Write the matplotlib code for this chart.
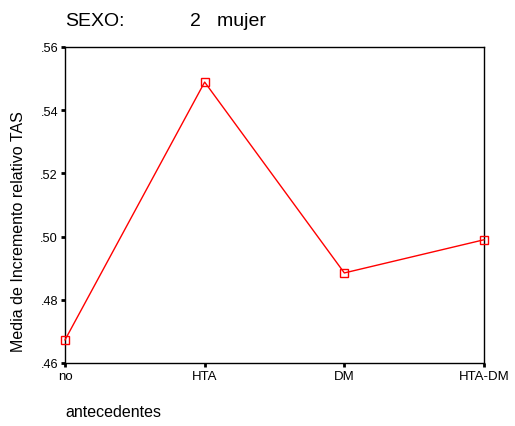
import matplotlib
matplotlib.use("Agg")
import matplotlib.pyplot as plt

plt.rcParams['font.family'] = ['Liberation Sans', 'DejaVu Sans']

categories = ["no", "HTA", "DM", "HTA-DM"]
values = [0.4673, 0.5489, 0.4885, 0.4990]
yticks = [0.46, 0.48, 0.50, 0.52, 0.54, 0.56]
ytick_labels = [".46", ".48", ".50", ".52", ".54", ".56"]

W, H = 515, 427
fig = plt.figure(figsize=(W/100, H/100), dpi=100)
ax = fig.add_axes([65/W, 1-364/H, (484-65)/W, (364-48)/H])

x = list(range(len(categories)))
ax.plot(x, values, color='red', lw=1, marker='s', markersize=6,
        markerfacecolor='none', markeredgecolor='red', markeredgewidth=1, clip_on=False, zorder=3)
ax.set_xlim(0, 3)
ax.set_ylim(0.46, 0.56)
ax.set_xticks(x)
ax.set_xticklabels(categories, fontsize=9.5)
ax.set_yticks(yticks)
ax.set_yticklabels(ytick_labels, fontsize=9.2)
ax.tick_params(direction='out', length=3, width=2, pad=2)
for s in ax.spines.values():
    s.set_linewidth(1)

fig.text(19/W, 1-232/H, "Media de Incremento relativo TAS", fontsize=11.5,
         rotation=90, va='center', ha='center')
fig.text(65/W, 1-22/H, "SEXO:", fontsize=14, va='center', ha='left')
fig.text(190/W, 1-22/H, "2   mujer", fontsize=14, va='center', ha='left')
fig.text(65/W, 1-413/H, "antecedentes", fontsize=11.5, va='center', ha='left')

fig.savefig("out.png", dpi=100)
